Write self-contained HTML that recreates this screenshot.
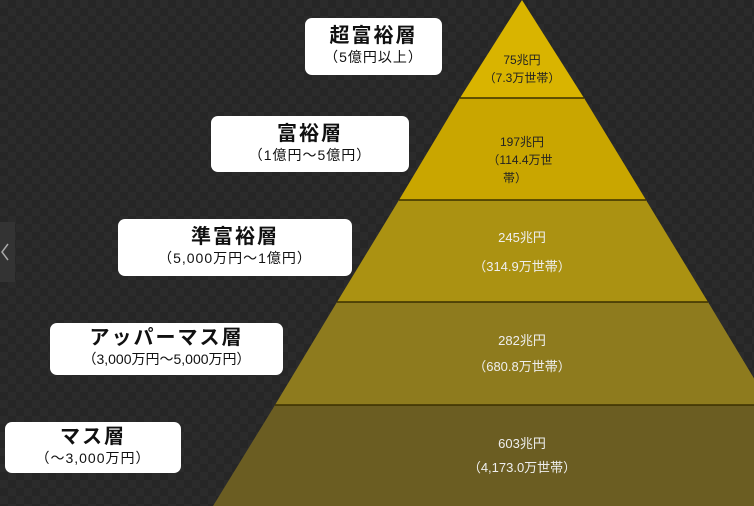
<!DOCTYPE html>
<html><head><meta charset="utf-8"><style>
body{margin:0;width:754px;height:506px;overflow:hidden;background:#2b2b2b;
background-image:linear-gradient(45deg,#262626 25%,transparent 25%,transparent 75%,#262626 75%),linear-gradient(45deg,#262626 25%,transparent 25%,transparent 75%,#262626 75%);
background-size:16px 16px;background-position:0 0,8px 8px;position:relative;font-family:"Liberation Sans","Noto Sans CJK JP",sans-serif}
.b{position:absolute;background:#fff;border-radius:7px;text-align:center;color:#111;font-weight:bold}
.b .t{font-size:20px;line-height:24px;letter-spacing:2px}
.b .s{font-size:14px;line-height:18px;font-weight:normal;letter-spacing:1px}
svg{position:absolute;left:0;top:0}
</style></head><body>
<svg width="754" height="506">
<polygon points="522,0 584,98 460,98" fill="#d9b400"/>
<polygon points="460,98 584,98 646,200 399,200" fill="#c9a600"/>
<polygon points="399,200 646,200 708,302 337,302" fill="#ab9212"/>
<polygon points="337,302 708,302 770,405 275,405" fill="#8e7b1e"/>
<polygon points="275,405 770,405 832,506 213,506" fill="#6b5d22"/>
<g stroke="#3a3000" stroke-width="1.5"><line x1="460" y1="98" x2="584" y2="98"/><line x1="399" y1="200" x2="646" y2="200"/><line x1="337" y1="302" x2="708" y2="302"/><line x1="275" y1="405" x2="770" y2="405"/></g>
<g fill="#222" font-size="12" text-anchor="middle" font-family="Liberation Sans,Noto Sans CJK JP,sans-serif">
<text x="522" y="64">75兆円</text><text x="522" y="82">（7.3万世帯）</text>
<text x="522" y="146">197兆円</text><text x="520" y="164">（114.4万世</text><text x="515" y="182">帯）</text>
</g>
<g fill="#eee" font-size="13" text-anchor="middle" font-family="Liberation Sans,Noto Sans CJK JP,sans-serif">
<text x="522" y="242">245兆円</text><text x="522" y="271">（314.9万世帯）</text>
<text x="522" y="345">282兆円</text><text x="522" y="371">（680.8万世帯）</text>
<text x="522" y="448">603兆円</text><text x="522" y="472">（4,173.0万世帯）</text>
</g>
<rect x="0" y="222" width="15" height="60" fill="#333"/>
<polyline points="8,244 2,252 8,260" fill="none" stroke="#aaa" stroke-width="1.5"/>
</svg>
<div class="b" style="left:305px;top:18px;width:137px;height:57px"><div class="t" style="margin-top:6px">超富裕層</div><div class="s">（5億円以上）</div></div>
<div class="b" style="left:211px;top:116px;width:198px;height:56px"><div class="t" style="margin-top:6px">富裕層</div><div class="s">（1億円～5億円）</div></div>
<div class="b" style="left:118px;top:219px;width:234px;height:57px"><div class="t" style="margin-top:6px">準富裕層</div><div class="s">（5,000万円～1億円）</div></div>
<div class="b" style="left:50px;top:323px;width:233px;height:52px"><div class="t" style="margin-top:3px">アッパーマス層</div><div class="s" style="letter-spacing:0">（3,000万円～5,000万円）</div></div>
<div class="b" style="left:5px;top:422px;width:176px;height:51px"><div class="t" style="margin-top:3px">マス層</div><div class="s">（～3,000万円）</div></div>
</body></html>
